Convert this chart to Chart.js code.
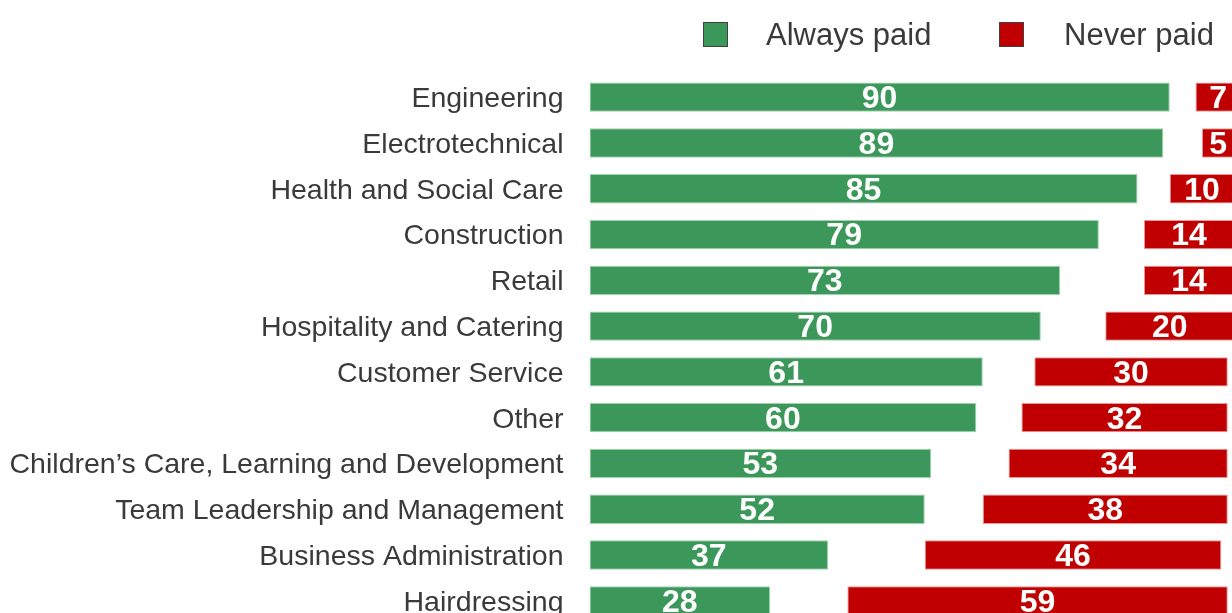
<!DOCTYPE html>
<html>
<head>
<meta charset="utf-8">
<script src="https://cdn.jsdelivr.net/npm/chart.js@4.4.1/dist/chart.umd.min.js"></script>
<style>
  html, body { margin: 0; padding: 0; background: #ffffff; overflow: hidden; width: 1232px; height: 613px; }
  #wrap { position: absolute; left: 0; top: 0; width: 1260px; height: 680px; }
</style>
</head>
<body>
<div id="wrap"><canvas id="c" width="1260" height="680"></canvas></div>
<script>
const categories = [
  "Engineering",
  "Electrotechnical",
  "Health and Social Care",
  "Construction",
  "Retail",
  "Hospitality and Catering",
  "Customer Service",
  "Other",
  "Children\u2019s Care, Learning and Development",
  "Team Leadership and Management",
  "Business Administration",
  "Hairdressing"
];
const alwaysPaid   = [90, 89, 85, 79, 73, 70, 61, 60, 53, 52, 37, 28];
const sometimesPaid = [4, 6, 5, 7, 13, 10, 8, 7, 12, 9, 15, 12];
const neverPaid    = [7, 5, 10, 14, 14, 20, 30, 32, 34, 38, 46, 59];
const seriesNames  = ["Always paid", "Sometimes paid", "Never paid"];

const GREEN = "#3C985A";
const RED = "#C00000";
const TEXT = "#3A3A3A";
const FONT = "'Liberation Sans', Arial, sans-serif";

const valueLabels = {
  id: "valueLabels",
  afterDatasetsDraw(chart) {
    const ctx = chart.ctx;
    ctx.save();
    ctx.fillStyle = "#ffffff";
    ctx.font = "bold 32px " + FONT;
    ctx.textAlign = "center";
    ctx.textBaseline = "middle";
    [0, 2].forEach(di => {
      const meta = chart.getDatasetMeta(di);
      meta.data.forEach((el, i) => {
        const cx = (el.x + el.base) / 2;
        ctx.fillText(String(chart.data.datasets[di].data[i]), cx, el.y + 2);
      });
    });
    ctx.restore();
  }
};

const customLegend = {
  id: "customLegend",
  afterDraw(chart) {
    const ctx = chart.ctx;
    ctx.save();
    const items = [
      { ds: 0, bx: 703, tx: 766 },
      { ds: 2, bx: 999, tx: 1064 }
    ];
    items.forEach(it => {
      const d = chart.data.datasets[it.ds];
      ctx.fillStyle = d.backgroundColor;
      ctx.fillRect(it.bx, 22, 25, 25);
      ctx.strokeStyle = "#404040";
      ctx.lineWidth = 1;
      ctx.strokeRect(it.bx + 0.5, 22.5, 24, 24);
      ctx.fillStyle = TEXT;
      ctx.font = "31px " + FONT;
      ctx.textAlign = "left";
      ctx.textBaseline = "alphabetic";
      ctx.fillText(d.label, it.tx, 45);
    });
    ctx.restore();
  }
};

new Chart(document.getElementById("c"), {
  type: "bar",
  data: {
    labels: categories,
    datasets: [
      { label: seriesNames[0], data: alwaysPaid, backgroundColor: GREEN, borderColor: "rgba(150,205,165,0.9)", borderWidth: 1, borderSkipped: false },
      { label: seriesNames[1], data: sometimesPaid, backgroundColor: "rgba(0,0,0,0)", borderWidth: 0 },
      { label: seriesNames[2], data: neverPaid, backgroundColor: RED, borderColor: "rgba(235,140,140,0.9)", borderWidth: 1, borderSkipped: false }
    ]
  },
  options: {
    indexAxis: "y",
    responsive: false,
    animation: false,
    devicePixelRatio: 1,
    layout: { padding: { top: 74.3, bottom: 56.3, left: 0, right: 0 } },
    datasets: { bar: { categoryPercentage: 1.0, barPercentage: 0.64 } },
    plugins: { legend: { display: false }, tooltip: { enabled: false } },
    scales: {
      x: {
        stacked: true, min: 0, max: 104, display: false
      },
      y: {
        stacked: true,
        grid: { display: false, drawTicks: false },
        border: { display: false },
        ticks: { color: TEXT, font: { family: FONT, size: 28.5 }, padding: 26, crossAlign: "near", labelOffset: 2 },
        afterFit(scale) { scale.width = 589.5; }
      }
    }
  },
  plugins: [valueLabels, customLegend]
});
</script>
</body>
</html>
